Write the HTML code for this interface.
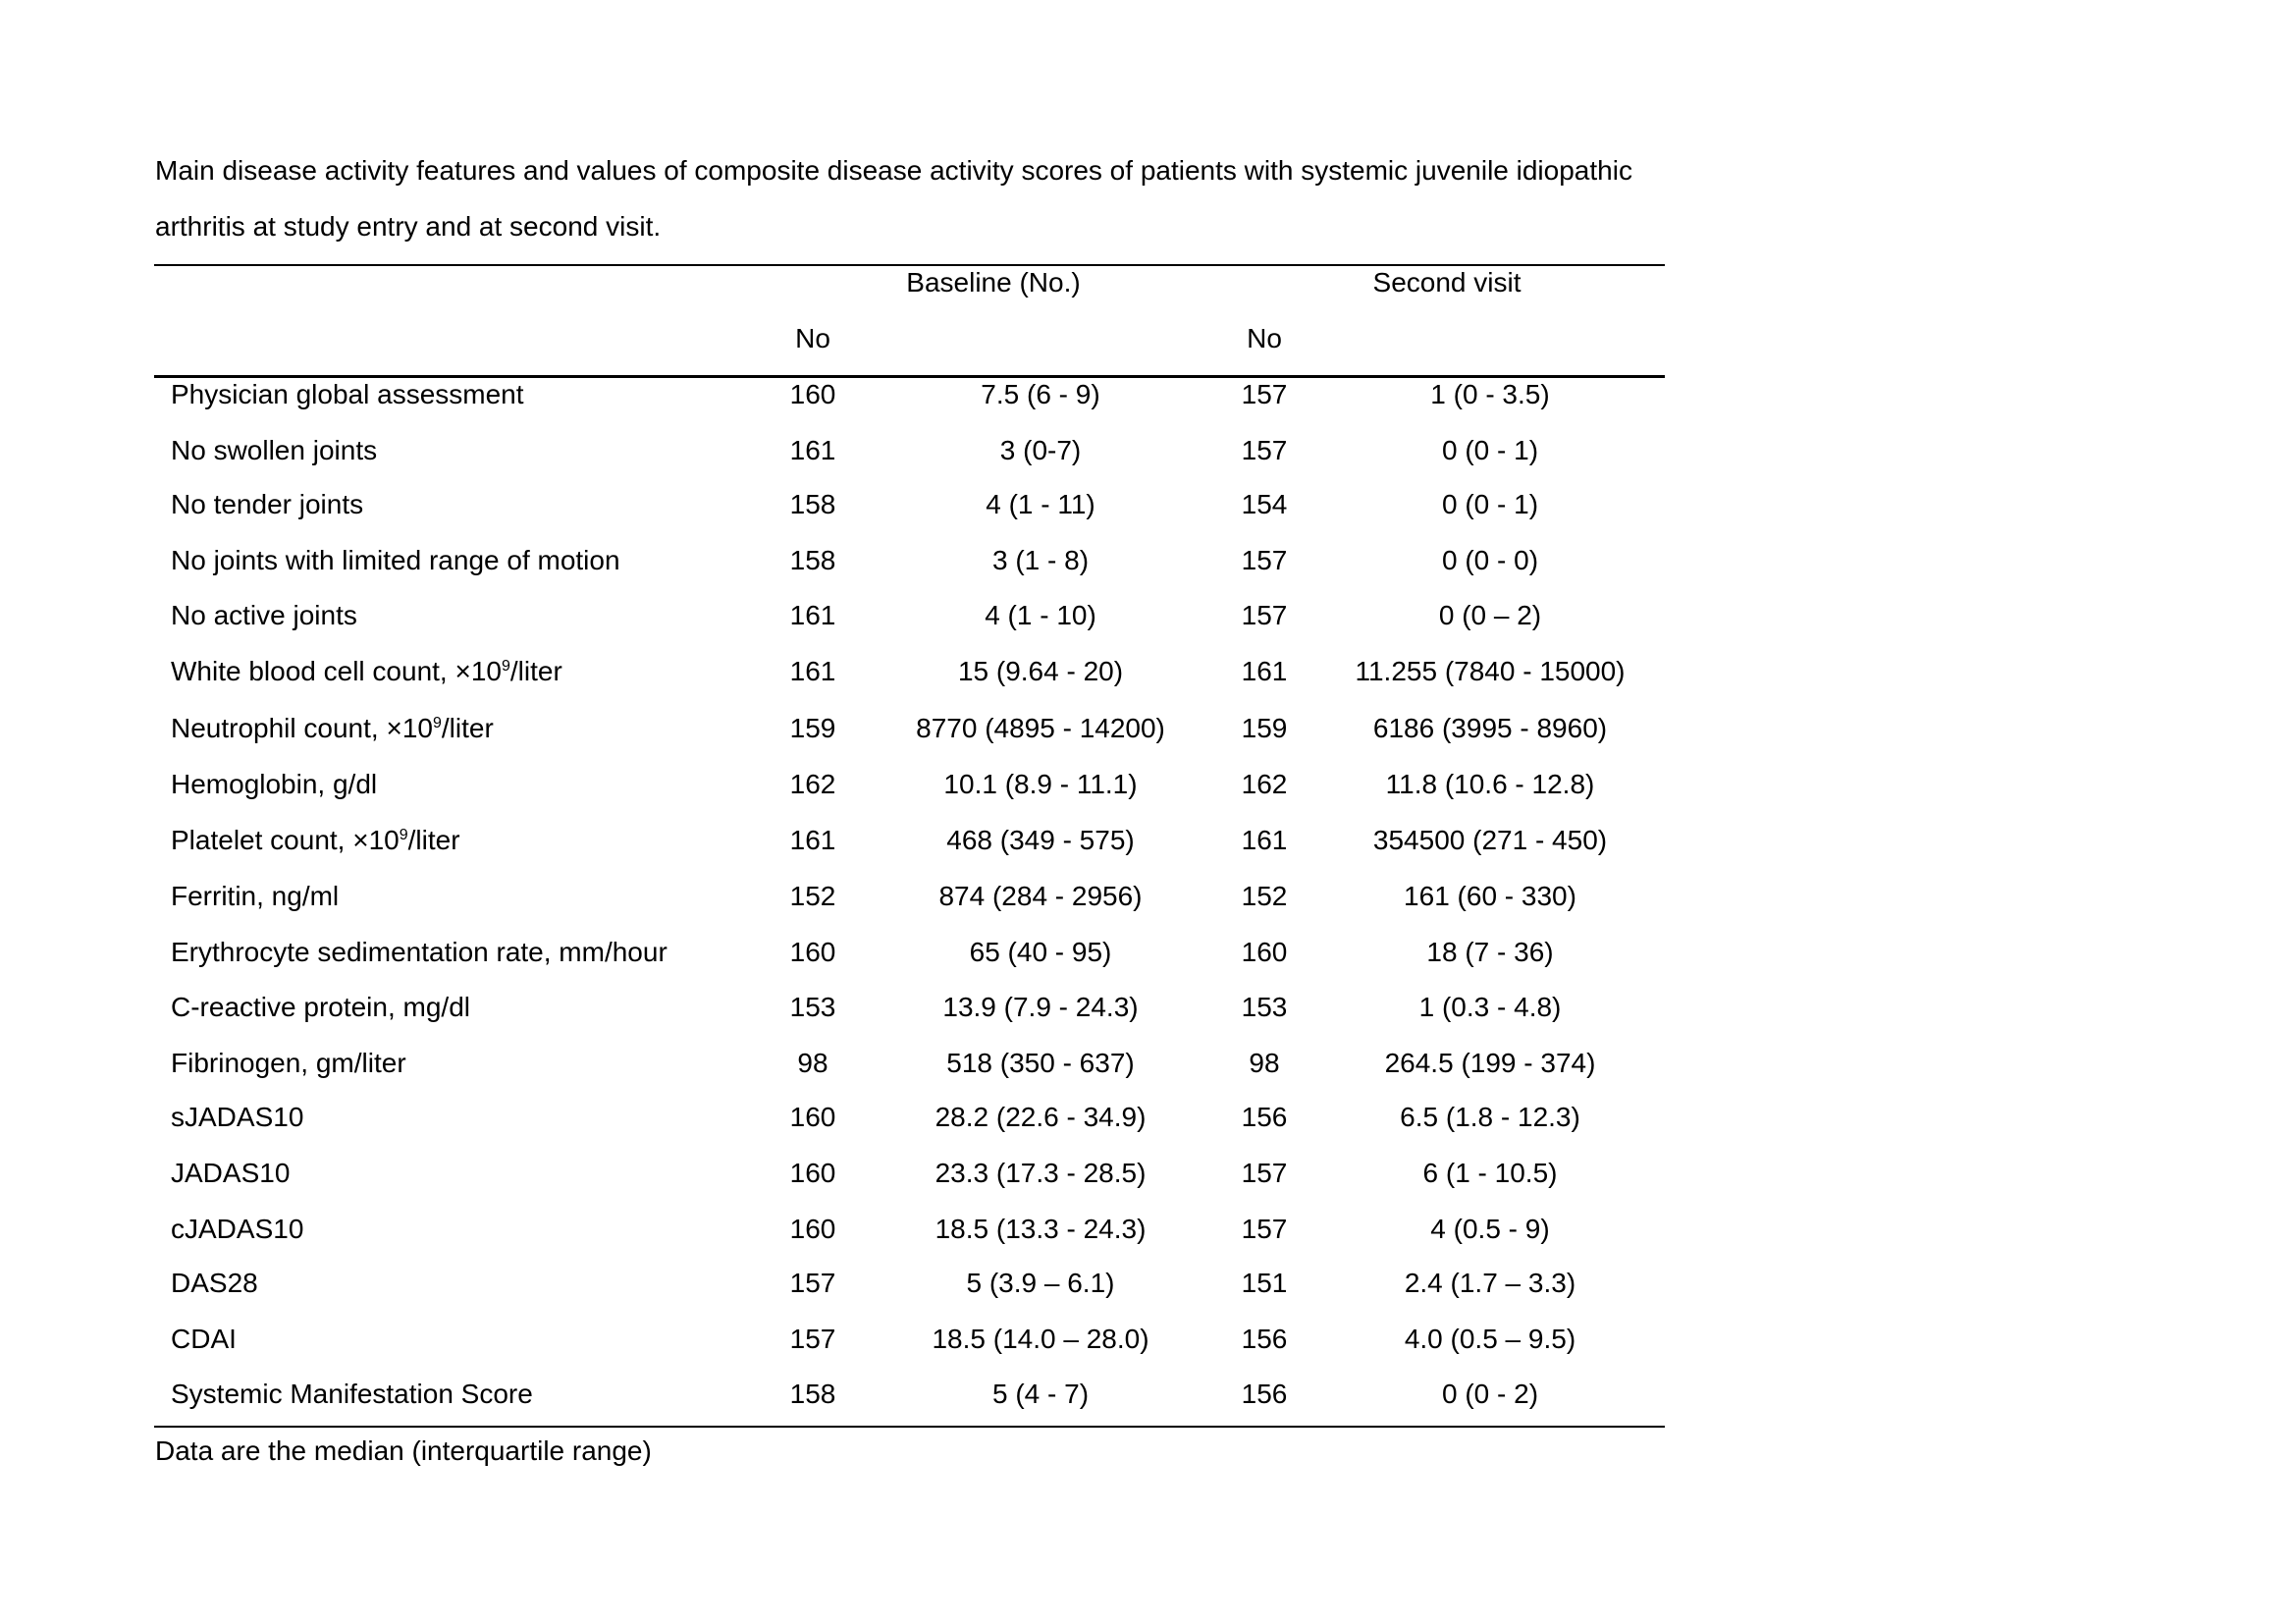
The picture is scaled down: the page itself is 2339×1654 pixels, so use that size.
<!DOCTYPE html>
<html><head><meta charset="utf-8"><style>
html,body{margin:0;padding:0;background:#fff;}
body{width:2339px;height:1654px;position:relative;overflow:hidden;font-family:"Liberation Sans",sans-serif;font-size:28px;color:#000;}
.t{position:absolute;white-space:nowrap;line-height:32px;transform:translateY(calc(-50% - 3px));}
.c{transform:translate(-50%,calc(-50% - 3px));}
.r{position:absolute;left:157px;width:1539px;background:#000;}
sup{font-size:16px;vertical-align:10px;line-height:0;}
</style></head><body>
<div class="t" style="left:158px;top:177px">Main disease activity features and values of composite disease activity scores of patients with systemic juvenile idiopathic</div>
<div class="t" style="left:158px;top:234px">arthritis at study entry and at second visit.</div>
<div class="r" style="top:269px;height:2px"></div>
<div class="t c" style="left:1012px;top:291px">Baseline (No.)</div>
<div class="t c" style="left:1474px;top:291px">Second visit</div>
<div class="t c" style="left:828px;top:348px">No</div>
<div class="t c" style="left:1288px;top:348px">No</div>
<div class="r" style="top:382px;height:3px"></div>

<div class="t" style="left:174px;top:405px">Physician global assessment</div><div class="t c" style="left:828px;top:405px">160</div><div class="t c" style="left:1060px;top:405px">7.5 (6 - 9)</div><div class="t c" style="left:1288px;top:405px">157</div><div class="t c" style="left:1518px;top:405px">1 (0 - 3.5)</div>
<div class="t" style="left:174px;top:462px">No swollen joints</div><div class="t c" style="left:828px;top:462px">161</div><div class="t c" style="left:1060px;top:462px">3 (0-7)</div><div class="t c" style="left:1288px;top:462px">157</div><div class="t c" style="left:1518px;top:462px">0 (0 - 1)</div>
<div class="t" style="left:174px;top:517px">No tender joints</div><div class="t c" style="left:828px;top:517px">158</div><div class="t c" style="left:1060px;top:517px">4 (1 - 11)</div><div class="t c" style="left:1288px;top:517px">154</div><div class="t c" style="left:1518px;top:517px">0 (0 - 1)</div>
<div class="t" style="left:174px;top:574px">No joints with limited range of motion</div><div class="t c" style="left:828px;top:574px">158</div><div class="t c" style="left:1060px;top:574px">3 (1 - 8)</div><div class="t c" style="left:1288px;top:574px">157</div><div class="t c" style="left:1518px;top:574px">0 (0 - 0)</div>
<div class="t" style="left:174px;top:630px">No active joints</div><div class="t c" style="left:828px;top:630px">161</div><div class="t c" style="left:1060px;top:630px">4 (1 - 10)</div><div class="t c" style="left:1288px;top:630px">157</div><div class="t c" style="left:1518px;top:630px">0 (0 – 2)</div>
<div class="t" style="left:174px;top:687px">White blood cell count, ×10<sup>9</sup>/liter</div><div class="t c" style="left:828px;top:687px">161</div><div class="t c" style="left:1060px;top:687px">15 (9.64 - 20)</div><div class="t c" style="left:1288px;top:687px">161</div><div class="t c" style="left:1518px;top:687px">11.255 (7840 - 15000)</div>
<div class="t" style="left:174px;top:745px">Neutrophil count, ×10<sup>9</sup>/liter</div><div class="t c" style="left:828px;top:745px">159</div><div class="t c" style="left:1060px;top:745px">8770 (4895 - 14200)</div><div class="t c" style="left:1288px;top:745px">159</div><div class="t c" style="left:1518px;top:745px">6186 (3995 - 8960)</div>
<div class="t" style="left:174px;top:802px">Hemoglobin, g/dl</div><div class="t c" style="left:828px;top:802px">162</div><div class="t c" style="left:1060px;top:802px">10.1 (8.9 - 11.1)</div><div class="t c" style="left:1288px;top:802px">162</div><div class="t c" style="left:1518px;top:802px">11.8 (10.6 - 12.8)</div>
<div class="t" style="left:174px;top:859px">Platelet count, ×10<sup>9</sup>/liter</div><div class="t c" style="left:828px;top:859px">161</div><div class="t c" style="left:1060px;top:859px">468 (349 - 575)</div><div class="t c" style="left:1288px;top:859px">161</div><div class="t c" style="left:1518px;top:859px">354500 (271 - 450)</div>
<div class="t" style="left:174px;top:916px">Ferritin, ng/ml</div><div class="t c" style="left:828px;top:916px">152</div><div class="t c" style="left:1060px;top:916px">874 (284 - 2956)</div><div class="t c" style="left:1288px;top:916px">152</div><div class="t c" style="left:1518px;top:916px">161 (60 - 330)</div>
<div class="t" style="left:174px;top:973px">Erythrocyte sedimentation rate, mm/hour</div><div class="t c" style="left:828px;top:973px">160</div><div class="t c" style="left:1060px;top:973px">65 (40 - 95)</div><div class="t c" style="left:1288px;top:973px">160</div><div class="t c" style="left:1518px;top:973px">18 (7 - 36)</div>
<div class="t" style="left:174px;top:1029px">C-reactive protein, mg/dl</div><div class="t c" style="left:828px;top:1029px">153</div><div class="t c" style="left:1060px;top:1029px">13.9 (7.9 - 24.3)</div><div class="t c" style="left:1288px;top:1029px">153</div><div class="t c" style="left:1518px;top:1029px">1 (0.3 - 4.8)</div>
<div class="t" style="left:174px;top:1086px">Fibrinogen, gm/liter</div><div class="t c" style="left:828px;top:1086px">98</div><div class="t c" style="left:1060px;top:1086px">518 (350 - 637)</div><div class="t c" style="left:1288px;top:1086px">98</div><div class="t c" style="left:1518px;top:1086px">264.5 (199 - 374)</div>
<div class="t" style="left:174px;top:1141px">sJADAS10</div><div class="t c" style="left:828px;top:1141px">160</div><div class="t c" style="left:1060px;top:1141px">28.2 (22.6 - 34.9)</div><div class="t c" style="left:1288px;top:1141px">156</div><div class="t c" style="left:1518px;top:1141px">6.5 (1.8 - 12.3)</div>
<div class="t" style="left:174px;top:1198px">JADAS10</div><div class="t c" style="left:828px;top:1198px">160</div><div class="t c" style="left:1060px;top:1198px">23.3 (17.3 - 28.5)</div><div class="t c" style="left:1288px;top:1198px">157</div><div class="t c" style="left:1518px;top:1198px">6 (1 - 10.5)</div>
<div class="t" style="left:174px;top:1255px">cJADAS10</div><div class="t c" style="left:828px;top:1255px">160</div><div class="t c" style="left:1060px;top:1255px">18.5 (13.3 - 24.3)</div><div class="t c" style="left:1288px;top:1255px">157</div><div class="t c" style="left:1518px;top:1255px">4 (0.5 - 9)</div>
<div class="t" style="left:174px;top:1310px">DAS28</div><div class="t c" style="left:828px;top:1310px">157</div><div class="t c" style="left:1060px;top:1310px">5 (3.9 – 6.1)</div><div class="t c" style="left:1288px;top:1310px">151</div><div class="t c" style="left:1518px;top:1310px">2.4 (1.7 – 3.3)</div>
<div class="t" style="left:174px;top:1367px">CDAI</div><div class="t c" style="left:828px;top:1367px">157</div><div class="t c" style="left:1060px;top:1367px">18.5 (14.0 – 28.0)</div><div class="t c" style="left:1288px;top:1367px">156</div><div class="t c" style="left:1518px;top:1367px">4.0 (0.5 – 9.5)</div>
<div class="t" style="left:174px;top:1423px">Systemic Manifestation Score</div><div class="t c" style="left:828px;top:1423px">158</div><div class="t c" style="left:1060px;top:1423px">5 (4 - 7)</div><div class="t c" style="left:1288px;top:1423px">156</div><div class="t c" style="left:1518px;top:1423px">0 (0 - 2)</div>

<div class="r" style="top:1452px;height:2px"></div>
<div class="t" style="left:158px;top:1481px">Data are the median (interquartile range)</div>
</body></html>
